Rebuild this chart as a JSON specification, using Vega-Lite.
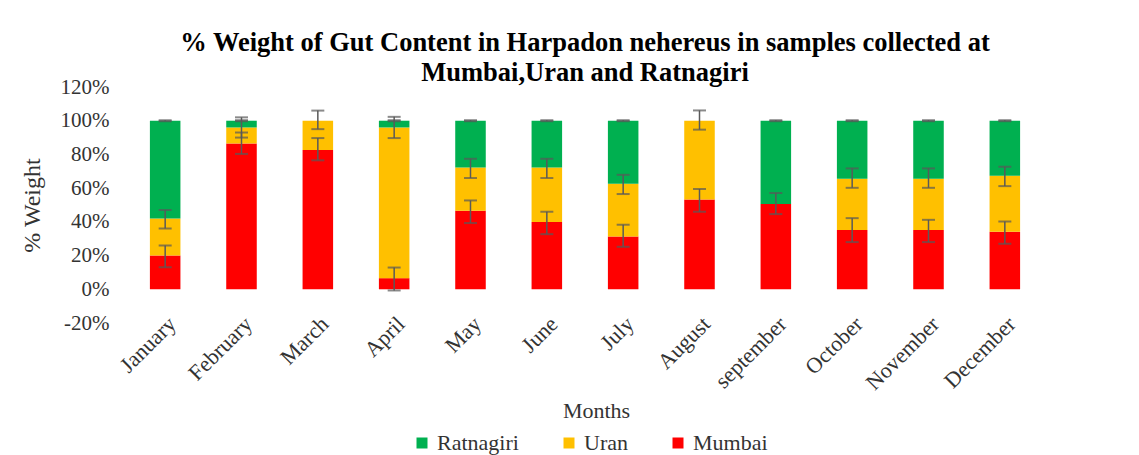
{
  "$schema": "https://vega.github.io/schema/vega-lite/v6.json",
  "autosize": "none",
  "width": 916,
  "height": 236,
  "padding": {"left": 127, "top": 87, "right": 96, "bottom": 132},
  "background": "white",
  "title": {
    "text": ["% Weight of Gut Content in Harpadon nehereus in samples collected at", "Mumbai,Uran and Ratnagiri"],
    "font": "Liberation Serif",
    "fontSize": 26.5,
    "fontWeight": "bold",
    "color": "#000000",
    "lineHeight": 30,
    "anchor": "middle",
    "offset": -10
  },
  "config": {
    "view": {"stroke": null},
    "axis": {"labelFont": "Liberation Serif", "titleFont": "Liberation Serif", "labelColor": "#333333", "titleColor": "#333333", "titleFontWeight": "normal", "labelOverlap": false},
    "axisY": {"labelOverlap": false, "labelBound": false, "tickCount": 10},
    "legend": {"labelFont": "Liberation Serif", "labelColor": "#333333"}
  },
  "datasets": {
    "bars": [
      {"month": "January", "site": "Mumbai", "rank": 1, "value": 20},
      {"month": "January", "site": "Uran", "rank": 2, "value": 22},
      {"month": "January", "site": "Ratnagiri", "rank": 3, "value": 58},
      {"month": "February", "site": "Mumbai", "rank": 1, "value": 86.5},
      {"month": "February", "site": "Uran", "rank": 2, "value": 9.5},
      {"month": "February", "site": "Ratnagiri", "rank": 3, "value": 4},
      {"month": "March", "site": "Mumbai", "rank": 1, "value": 82.6},
      {"month": "March", "site": "Uran", "rank": 2, "value": 17.4},
      {"month": "March", "site": "Ratnagiri", "rank": 3, "value": 0},
      {"month": "April", "site": "Mumbai", "rank": 1, "value": 6.6},
      {"month": "April", "site": "Uran", "rank": 2, "value": 89.4},
      {"month": "April", "site": "Ratnagiri", "rank": 3, "value": 4},
      {"month": "May", "site": "Mumbai", "rank": 1, "value": 46.6},
      {"month": "May", "site": "Uran", "rank": 2, "value": 25.7},
      {"month": "May", "site": "Ratnagiri", "rank": 3, "value": 27.7},
      {"month": "June", "site": "Mumbai", "rank": 1, "value": 39.9},
      {"month": "June", "site": "Uran", "rank": 2, "value": 32.4},
      {"month": "June", "site": "Ratnagiri", "rank": 3, "value": 27.7},
      {"month": "July", "site": "Mumbai", "rank": 1, "value": 31.3},
      {"month": "July", "site": "Uran", "rank": 2, "value": 31.3},
      {"month": "July", "site": "Ratnagiri", "rank": 3, "value": 37.4},
      {"month": "August", "site": "Mumbai", "rank": 1, "value": 53.3},
      {"month": "August", "site": "Uran", "rank": 2, "value": 46.7},
      {"month": "August", "site": "Ratnagiri", "rank": 3, "value": 0},
      {"month": "september", "site": "Mumbai", "rank": 1, "value": 50.6},
      {"month": "september", "site": "Uran", "rank": 2, "value": 0},
      {"month": "september", "site": "Ratnagiri", "rank": 3, "value": 49.4},
      {"month": "October", "site": "Mumbai", "rank": 1, "value": 35.1},
      {"month": "October", "site": "Uran", "rank": 2, "value": 30.5},
      {"month": "October", "site": "Ratnagiri", "rank": 3, "value": 34.4},
      {"month": "November", "site": "Mumbai", "rank": 1, "value": 35.1},
      {"month": "November", "site": "Uran", "rank": 2, "value": 30.5},
      {"month": "November", "site": "Ratnagiri", "rank": 3, "value": 34.4},
      {"month": "December", "site": "Mumbai", "rank": 1, "value": 34.1},
      {"month": "December", "site": "Uran", "rank": 2, "value": 33.3},
      {"month": "December", "site": "Ratnagiri", "rank": 3, "value": 32.6}
    ],
    "errs": [
      {"month": "January", "site": "Mumbai", "lo": 13, "hi": 26},
      {"month": "January", "site": "Uran", "lo": 36, "hi": 47},
      {"month": "January", "site": "Ratnagiri", "lo": 99.7, "hi": 100.3},
      {"month": "February", "site": "Mumbai", "lo": 80.3, "hi": 93},
      {"month": "February", "site": "Uran", "lo": 90, "hi": 102},
      {"month": "February", "site": "Ratnagiri", "lo": 99.7, "hi": 100.3},
      {"month": "March", "site": "Mumbai", "lo": 76.5, "hi": 89.7},
      {"month": "March", "site": "Uran", "lo": 95, "hi": 106},
      {"month": "April", "site": "Mumbai", "lo": -0.7, "hi": 12.9},
      {"month": "April", "site": "Uran", "lo": 89.7, "hi": 102.3},
      {"month": "April", "site": "Ratnagiri", "lo": 99.7, "hi": 100.3},
      {"month": "May", "site": "Mumbai", "lo": 39.3, "hi": 52.7},
      {"month": "May", "site": "Uran", "lo": 66, "hi": 77.4},
      {"month": "May", "site": "Ratnagiri", "lo": 99.7, "hi": 100.3},
      {"month": "June", "site": "Mumbai", "lo": 32.7, "hi": 46},
      {"month": "June", "site": "Uran", "lo": 66, "hi": 77.4},
      {"month": "June", "site": "Ratnagiri", "lo": 99.7, "hi": 100.3},
      {"month": "July", "site": "Mumbai", "lo": 25.2, "hi": 38.3},
      {"month": "July", "site": "Uran", "lo": 56.5, "hi": 67.9},
      {"month": "July", "site": "Ratnagiri", "lo": 99.7, "hi": 100.3},
      {"month": "August", "site": "Mumbai", "lo": 46, "hi": 59.5},
      {"month": "August", "site": "Uran", "lo": 94.7, "hi": 106.1},
      {"month": "september", "site": "Mumbai", "lo": 44.6, "hi": 57.1},
      {"month": "september", "site": "Ratnagiri", "lo": 99.7, "hi": 100.3},
      {"month": "October", "site": "Mumbai", "lo": 28, "hi": 42.2},
      {"month": "October", "site": "Uran", "lo": 60.2, "hi": 71.7},
      {"month": "October", "site": "Ratnagiri", "lo": 99.7, "hi": 100.3},
      {"month": "November", "site": "Mumbai", "lo": 28, "hi": 41.2},
      {"month": "November", "site": "Uran", "lo": 60.2, "hi": 71.7},
      {"month": "November", "site": "Ratnagiri", "lo": 99.7, "hi": 100.3},
      {"month": "December", "site": "Mumbai", "lo": 27, "hi": 40.2},
      {"month": "December", "site": "Uran", "lo": 61.2, "hi": 72.7},
      {"month": "December", "site": "Ratnagiri", "lo": 99.7, "hi": 100.3}
    ]
  },
  "encoding": {
    "x": {
      "field": "month",
      "type": "nominal",
      "sort": ["January", "February", "March", "April", "May", "June", "July", "August", "september", "October", "November", "December"],
      "scale": {"paddingInner": 0.6, "paddingOuter": 0.3},
      "axis": {
        "title": "Months",
        "titleFontSize": 22,
        "titleX": 469,
        "titleY": 87,
        "titleBaseline": "middle",
        "labelAngle": -45,
        "labelFontSize": 22,
        "labelPadding": -10,
        "labelOverlap": false,
        "domain": false,
        "ticks": false,
        "grid": false
      }
    }
  },
  "layer": [
    {
      "data": {"name": "bars"},
      "mark": {"type": "bar"},
      "encoding": {
        "y": {
          "field": "value",
          "type": "quantitative",
          "stack": "zero",
          "scale": {"domain": [-20, 120], "nice": false},
          "axis": {
            "title": "% Weight",
            "titleFontSize": 24,
            "titlePadding": 16,
            "values": [-20, 0, 20, 40, 60, 80, 100, 120],
            "tickCount": 10,
            "labelExpr": "datum.value + '%'",
            "labelFontSize": 21,
            "labelPadding": 18,
            "labelOverlap": false,
            "labelBound": false,
            "domain": false,
            "ticks": false,
            "grid": false
          }
        },
        "color": {
          "field": "site",
          "type": "nominal",
          "scale": {"domain": ["Ratnagiri", "Uran", "Mumbai"], "range": ["#00B050", "#FFC000", "#FF0000"]},
          "legend": {
            "title": null,
            "orient": "none",
            "direction": "horizontal",
            "legendX": 284,
            "legendY": 345,
            "symbolType": "square",
            "symbolSize": 121,
            "symbolStrokeWidth": 0,
            "labelFontSize": 22,
            "labelOffset": 4,
            "columnPadding": 39
          }
        },
        "order": {"field": "rank", "type": "quantitative", "sort": "ascending"}
      }
    },
    {
      "mark": {"type": "rule", "color": "#D9D9D9", "strokeWidth": 1.5},
      "encoding": {"y": {"datum": 0}}
    },
    {
      "data": {"name": "errs"},
      "mark": {"type": "rule", "color": "#595959", "strokeWidth": 1.5},
      "encoding": {
        "y": {"field": "lo", "type": "quantitative"},
        "y2": {"field": "hi"}
      }
    },
    {
      "data": {"name": "errs"},
      "mark": {"type": "tick", "color": "#595959", "size": 13, "thickness": 2},
      "encoding": {"y": {"field": "lo", "type": "quantitative"}}
    },
    {
      "data": {"name": "errs"},
      "mark": {"type": "tick", "color": "#595959", "size": 13, "thickness": 2},
      "encoding": {"y": {"field": "hi", "type": "quantitative"}}
    }
  ]
}
